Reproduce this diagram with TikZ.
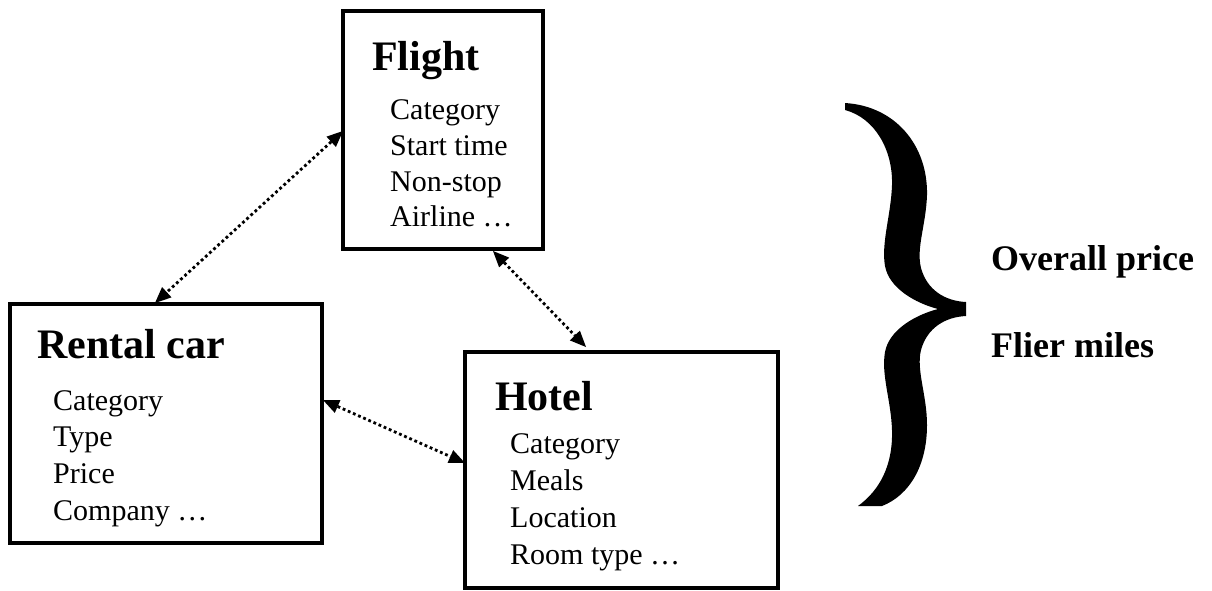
\documentclass[tikz,border=0pt]{standalone}
\usepackage{fontspec}
\setmainfont{Liberation Serif}
\usetikzlibrary{arrows.meta}
\tikzset{
  box/.style={draw, line width=3.5pt, rectangle, inner sep=0pt, outer sep=0pt, anchor=north west},
  ttl/.style={anchor=base west, inner sep=0pt, font=\fontsize{42}{46}\selectfont\bfseries},
  item/.style={anchor=base west, inner sep=0pt, font=\fontsize{30}{34}\selectfont},
  sumtxt/.style={anchor=base west, inner sep=0pt, font=\fontsize{36}{40}\selectfont\bfseries},
  link/.style={line width=2.8pt, dash pattern=on 2.8pt off 2.8pt,
    {Triangle[length=16pt,width=14pt,line width=0pt]}-{Triangle[length=16pt,width=14pt,line width=0pt]}},
}
\begin{document}
\begin{tikzpicture}[x=1pt,y=-1pt]
\useasboundingbox (0,0) rectangle (1212,590);
% boxes
\node[box, minimum width=200pt, minimum height=238pt] (flight) at (343,11) {};
\node[box, minimum width=312pt, minimum height=239pt] (rental) at (10,304) {};
\node[box, minimum width=313pt, minimum height=236pt] (hotel) at (465,352) {};
% Flight text
\node[ttl] (ft) at (372,70) {Flight};
\node[item] (f1) at (390,119) {Category};
\node[item] (f2) at (390,155) {Start time};
\node[item] (f3) at (390,191) {Non-stop};
\node[item] (f4) at (390,226) {Airline …};
% Rental text
\node[ttl] (rt) at (37,358) {Rental car};
\node[item] (r1) at (53,410) {Category};
\node[item] (r2) at (53,446) {Type};
\node[item] (r3) at (53,483) {Price};
\node[item] (r4) at (53,520) {Company …};
% Hotel text
\node[ttl] (ht) at (495,410) {Hotel};
\node[item] (h1) at (510,453) {Category};
\node[item] (h2) at (510,490) {Meals};
\node[item] (h3) at (510,527) {Location};
\node[item] (h4) at (510,564) {Room type …};
% summary text
\node[sumtxt] (op) at (991,270) {Overall price};
\node[sumtxt] (fm) at (991,357) {Flier miles};
% connector end points on box borders
\coordinate (fL) at (343,131);
\coordinate (rT) at (155,303);
\coordinate (fB) at (493,251);
\coordinate (hT) at (586,347);
\coordinate (rR) at (323,400);
\coordinate (hL) at (465,463);
\draw[link] (fL) -- (rT);
\draw[link] (fB) -- (hT);
\draw[link] (rR) -- (hL);
% brace
\fill (845,103) .. controls (895,106) and (928,145) .. (927,195)
  .. controls (926,225) and (916,248) .. (921,268)
  .. controls (927,290) and (945,301) .. (966,302)
  -- (966,316)
  .. controls (945,317) and (927,328) .. (921,350)
  .. controls (916,370) and (927,395) .. (927,425)
  .. controls (927,465) and (910,495) .. (882,506)
  -- (858,506)
  .. controls (880,490) and (893,465) .. (892,430)
  .. controls (891,400) and (881,375) .. (885,352)
  .. controls (889,330) and (915,315) .. (938,309)
  .. controls (915,303) and (889,288) .. (885,266)
  .. controls (881,243) and (891,215) .. (892,185)
  .. controls (893,150) and (875,118) .. (845,110)
  -- cycle;
\end{tikzpicture}
\end{document}
